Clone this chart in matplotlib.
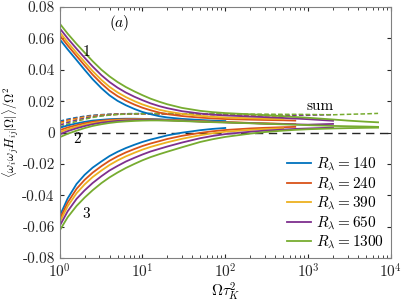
import numpy as np
import matplotlib
matplotlib.use("Agg")
import matplotlib.pyplot as plt

# Omega*tau_K^2 sample points (shared grid, each run stops at its own length)
omega = [1, 1.25, 1.6, 2, 2.5, 3.2, 4, 5, 6.3, 8, 10, 12.5, 16, 20, 30, 50, 70, 100,
         200, 300, 500, 700, 1000, 2000, 3000, 5000, 7000]

r_lambda = [140, 240, 390, 650, 1300]
colors = ['#0072BD', '#D95319', '#EDB120', '#7E2F8E', '#77AC30']

# term 1
c1_140 = [0.0595, 0.0530, 0.0462, 0.0400, 0.0340, 0.0282, 0.0237, 0.0202, 0.0174, 0.0150,
          0.0131, 0.0117, 0.0104, 0.0096, 0.0087, 0.0080, 0.0076, 0.0073]
c1_240 = [0.0620, 0.0555, 0.0488, 0.0428, 0.0369, 0.0312, 0.0267, 0.0232, 0.0203, 0.0178,
          0.0158, 0.0142, 0.0127, 0.0117, 0.0105, 0.0095, 0.0090, 0.0086,
          0.0082, 0.0080, 0.0078, 0.0076]
c1_390 = [0.0640, 0.0575, 0.0508, 0.0450, 0.0392, 0.0335, 0.0291, 0.0256, 0.0226, 0.0200,
          0.0179, 0.0162, 0.0145, 0.0134, 0.0119, 0.0106, 0.0100, 0.0096,
          0.0091, 0.0088, 0.0085]
c1_650 = [0.0665, 0.0600, 0.0534, 0.0477, 0.0421, 0.0365, 0.0322, 0.0286, 0.0255, 0.0228,
          0.0206, 0.0186, 0.0168, 0.0155, 0.0136, 0.0121, 0.0114, 0.0109,
          0.0102, 0.0098, 0.0093, 0.0089, 0.0085, 0.0075]
c1_1300 = [0.0695, 0.0630, 0.0565, 0.0510, 0.0455, 0.0400, 0.0358, 0.0322, 0.0290, 0.0262,
           0.0238, 0.0216, 0.0196, 0.0180, 0.0157, 0.0138, 0.0130, 0.0124,
           0.0116, 0.0111, 0.0104, 0.0099, 0.0094, 0.0083, 0.0076, 0.0069, 0.0065]

# term 2
c2_140 = [0.0030, 0.0045, 0.0058, 0.0068, 0.0076, 0.0081, 0.0085, 0.0087, 0.0088, 0.0088,
          0.0087, 0.0086, 0.0084, 0.0082, 0.0078, 0.0073, 0.0070, 0.0067]
c2_240 = [0.0015, 0.0032, 0.0047, 0.0059, 0.0068, 0.0075, 0.0080, 0.0083, 0.0085, 0.0085,
          0.0085, 0.0084, 0.0082, 0.0080, 0.0077, 0.0072, 0.0069, 0.0066,
          0.0061, 0.0058, 0.0055, 0.0053]
c2_390 = [0.0002, 0.0021, 0.0037, 0.0050, 0.0061, 0.0069, 0.0075, 0.0078, 0.0081, 0.0082,
          0.0082, 0.0081, 0.0080, 0.0079, 0.0076, 0.0071, 0.0068, 0.0066,
          0.0061, 0.0058, 0.0055]
c2_650 = [-0.0012, 0.0009, 0.0027, 0.0041, 0.0053, 0.0063, 0.0069, 0.0074, 0.0077, 0.0079,
          0.0080, 0.0080, 0.0079, 0.0078, 0.0075, 0.0070, 0.0067, 0.0065,
          0.0060, 0.0057, 0.0054, 0.0052, 0.0050, 0.0055]
c2_1300 = [-0.0030, -0.0008, 0.0012, 0.0028, 0.0042, 0.0053, 0.0061, 0.0067, 0.0071, 0.0074,
           0.0076, 0.0077, 0.0077, 0.0076, 0.0073, 0.0069, 0.0066, 0.0064,
           0.0059, 0.0056, 0.0052, 0.0050, 0.0047, 0.0042, 0.0040, 0.0038, 0.0036]

# term 3
c3_140 = [-0.0533, -0.0420, -0.0328, -0.0270, -0.0224, -0.0184, -0.0150, -0.0123, -0.0099,
          -0.0078, -0.0060, -0.0045, -0.0031, -0.0018, -0.0001, 0.0015, 0.0023, 0.0029]
c3_240 = [-0.0553, -0.0446, -0.0359, -0.0302, -0.0256, -0.0214, -0.0180, -0.0152, -0.0127,
          -0.0105, -0.0086, -0.0070, -0.0055, -0.0041, -0.0021, -0.0002, 0.0008, 0.0016,
          0.0026, 0.0030, 0.0034, 0.0036]
c3_390 = [-0.0572, -0.0470, -0.0387, -0.0331, -0.0284, -0.0242, -0.0207, -0.0178, -0.0152,
          -0.0129, -0.0109, -0.0092, -0.0076, -0.0062, -0.0040, -0.0017, -0.0005, 0.0005,
          0.0017, 0.0022, 0.0027]
c3_650 = [-0.0596, -0.0502, -0.0423, -0.0369, -0.0322, -0.0278, -0.0242, -0.0213, -0.0185,
          -0.0161, -0.0140, -0.0121, -0.0104, -0.0089, -0.0064, -0.0036, -0.0022, -0.0010,
          0.0005, 0.0012, 0.0019, 0.0023, 0.0026, 0.0031]
c3_1300 = [-0.0625, -0.0540, -0.0468, -0.0415, -0.0368, -0.0322, -0.0286, -0.0255, -0.0226,
           -0.0200, -0.0177, -0.0157, -0.0138, -0.0122, -0.0094, -0.0060, -0.0043, -0.0028,
           -0.0007, 0.0003, 0.0012, 0.0017, 0.0021, 0.0026, 0.0028, 0.0030, 0.0031]

# sum (dashed)
s_140 = [0.0072, 0.0085, 0.0096, 0.0104, 0.0110, 0.0114, 0.0117, 0.0119, 0.0120, 0.0121,
         0.0121, 0.0121, 0.0120, 0.0120, 0.0119, 0.0118, 0.0117, 0.0116]
s_240 = [0.0064, 0.0079, 0.0091, 0.0100, 0.0107, 0.0112, 0.0115, 0.0117, 0.0118, 0.0119,
         0.0119, 0.0119, 0.0118, 0.0118, 0.0117, 0.0115, 0.0114, 0.0112,
         0.0109, 0.0107, 0.0105, 0.0104]
s_390 = [0.0056, 0.0072, 0.0085, 0.0096, 0.0104, 0.0110, 0.0114, 0.0116, 0.0118, 0.0119,
         0.0119, 0.0119, 0.0118, 0.0118, 0.0117, 0.0116, 0.0115, 0.0114,
         0.0111, 0.0110, 0.0108]
s_650 = [0.0046, 0.0064, 0.0079, 0.0091, 0.0101, 0.0108, 0.0113, 0.0116, 0.0118, 0.0119,
         0.0120, 0.0120, 0.0120, 0.0119, 0.0118, 0.0117, 0.0116, 0.0115,
         0.0113, 0.0112, 0.0111, 0.0110, 0.0110, 0.0114]
s_1300 = [0.0034, 0.0054, 0.0071, 0.0085, 0.0096, 0.0105, 0.0111, 0.0115, 0.0117, 0.0119,
          0.0120, 0.0121, 0.0121, 0.0121, 0.0120, 0.0119, 0.0119, 0.0118,
          0.0117, 0.0117, 0.0116, 0.0116, 0.0115, 0.0113, 0.0116, 0.0119, 0.0122]

term1 = [c1_140, c1_240, c1_390, c1_650, c1_1300]
term2 = [c2_140, c2_240, c2_390, c2_650, c2_1300]
term3 = [c3_140, c3_240, c3_390, c3_650, c3_1300]
sums = [s_140, s_240, s_390, s_650, s_1300]

yticks = [-0.08, -0.06, -0.04, -0.02, 0, 0.02, 0.04, 0.06, 0.08]
ytick_labels = ['-0.08', '-0.06', '-0.04', '-0.02', '0', '0.02', '0.04', '0.06', '0.08']
xticks = [1, 10, 100, 1000, 10000]
xtick_labels = ['$10^0$', '$10^1$', '$10^2$', '$10^3$', '$10^4$']

plt.rcParams['font.family'] = 'serif'
plt.rcParams['font.serif'] = ['cmr10', 'DejaVu Serif']
plt.rcParams['mathtext.fontset'] = 'cm'
plt.rcParams['axes.unicode_minus'] = False

fig = plt.figure(figsize=(4.03, 3.05), dpi=100)
ax = fig.add_axes([0.148, 0.154, 0.822, 0.823])

for k in range(len(r_lambda)):
    n = len(sums[k])
    ax.plot(omega[:n], sums[k], '--', color=colors[k], lw=1.1, dashes=(3, 1.5))
for k in range(len(r_lambda)):
    n = len(term1[k])
    x = omega[:n]
    ax.plot(x, term1[k], color=colors[k], lw=1.3,
            label=r'$R_\lambda = %d$' % r_lambda[k])
    ax.plot(x, term2[k], color=colors[k], lw=1.3)
    ax.plot(x, term3[k], color=colors[k], lw=1.3)

ax.axhline(0, color='#262626', lw=1.0, ls='--', dashes=(6, 4), zorder=1)

ax.set_xscale('log')
ax.set_xlim(1, 10000)
ax.set_ylim(-0.08, 0.08)
ax.set_yticks(yticks)
ax.set_yticklabels(ytick_labels)
ax.set_xticks(xticks)
ax.set_xticklabels(xtick_labels)
ax.tick_params(which='both', direction='in', top=True, right=True,
               labelsize=11, colors='#262626', length=3)
ax.tick_params(which='minor', length=2)
for s in ax.spines.values():
    s.set_color('#808080')
    s.set_linewidth(0.8)

ax.set_xlabel(r'$\Omega\tau_K^2$', fontsize=11, labelpad=0)
ax.set_ylabel(r'$\langle\omega_i\omega_j H_{ij}|\Omega|\rangle/\Omega^2$',
              fontsize=9, labelpad=1)

ax.text(3.9, 0.0698, r'$(a)$', fontsize=11, va='center')
ax.text(1.9, 0.049, '1', fontsize=11)
ax.text(1.45, -0.0065, '2', fontsize=11)
ax.text(1.9, -0.0545, '3', fontsize=11)
ax.text(970, 0.0145, 'sum', fontsize=11)

ax.legend(loc='lower right', frameon=False, fontsize=11, handlelength=1.6,
          handletextpad=0.3, labelspacing=0.15, borderaxespad=0.05)

fig.savefig('out.png', dpi=100)
